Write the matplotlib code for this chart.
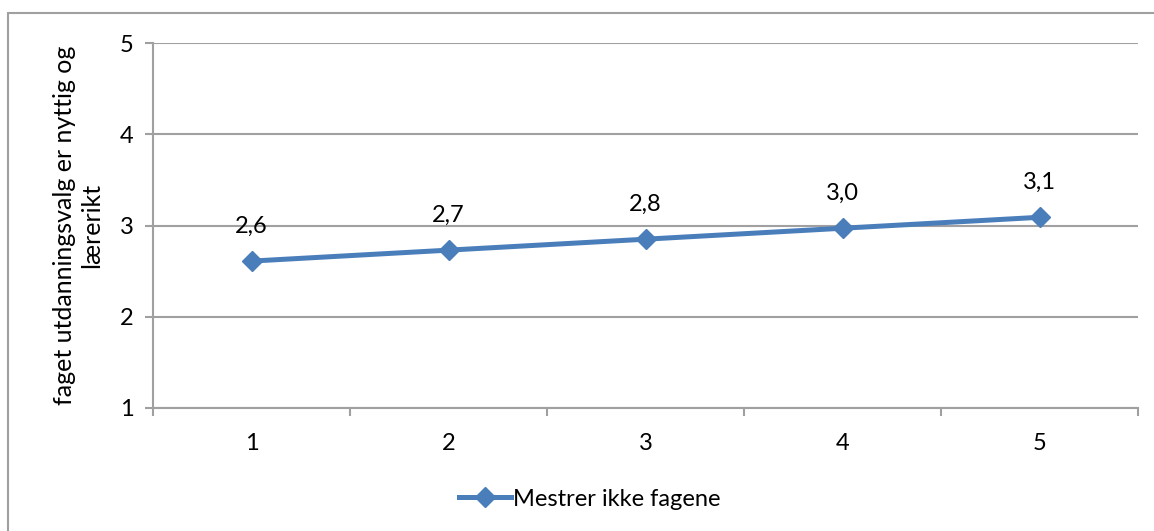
import matplotlib.pyplot as plt
from matplotlib.patches import Rectangle

# data
categories = [1, 2, 3, 4, 5]
values = [2.61, 2.73, 2.85, 2.97, 3.09]
value_labels = ['2,6', '2,7', '2,8', '3,0', '3,1']
series_name = 'Mestrer ikke fagene'
y_label = 'faget utdanningsvalg er nyttig og\nlærerikt'
y_ticks = [1, 2, 3, 4, 5]

blue = '#4a7ebb'
grey = '#a0a0a0'
fs = 17

plt.rcParams['font.family'] = ['Lato', 'DejaVu Sans']

fig = plt.figure(figsize=(11.54, 5.31), dpi=100)
ax = fig.add_axes([153 / 1154, 1 - 408 / 531, (1138 - 153) / 1154, (408 - 43) / 531])

# ramme rundt figuren
fig.patches.append(Rectangle((8 / 1154, -0.1), 1.2, 1 - 13 / 531 + 0.1,
                             transform=fig.transFigure, fill=False,
                             edgecolor=grey, linewidth=1.5))

line, = ax.plot(categories, values, color=blue, linewidth=3.6, marker='D',
                markersize=10, label=series_name, zorder=3)

for x, y, t in zip(categories, values, value_labels):
    ax.annotate(t, (x, y), xytext=(0, 25), textcoords='offset points',
                ha='center', va='center', fontsize=fs)

ax.set_xlim(0.5, 5.5)
ax.set_ylim(1, 5)
ax.set_yticks(y_ticks)
ax.set_xticks([0.5, 1.5, 2.5, 3.5, 4.5, 5.5])
ax.set_xticklabels([])
ax.set_xticks(categories, minor=True)
ax.set_xticklabels([str(c) for c in categories], minor=True)
ax.tick_params(axis='x', which='minor', length=0, pad=18, labelsize=fs)
ax.tick_params(axis='x', which='major', length=6, width=1.5, color=grey)
ax.tick_params(axis='y', length=6, width=1.5, color=grey, pad=8, labelsize=fs)

ax.grid(axis='y', color=grey, linewidth=1.5)
ax.set_axisbelow(True)
for s in ['top', 'right']:
    ax.spines[s].set_visible(False)
for s in ['left', 'bottom']:
    ax.spines[s].set_color(grey)
    ax.spines[s].set_linewidth(1.5)

ax.set_ylabel(y_label, fontsize=18, linespacing=1.2, labelpad=12)

fig.legend(handles=[line], loc='center', bbox_to_anchor=(590 / 1154, 1 - 499 / 531),
           frameon=False, fontsize=fs, handlelength=2.2, handletextpad=0.1)

fig.savefig('out.png', dpi=100)
